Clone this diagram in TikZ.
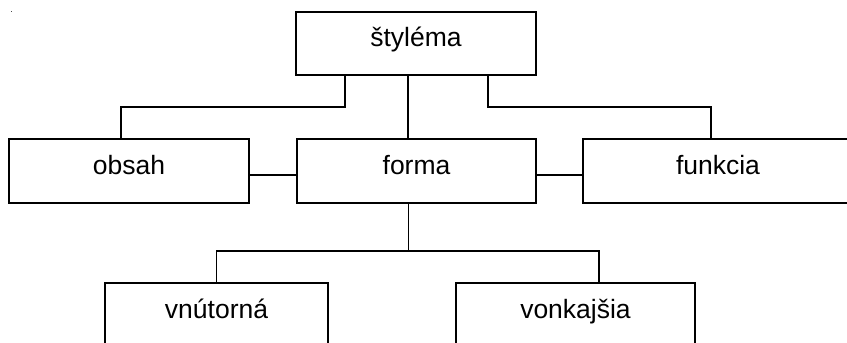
\documentclass[tikz,border=0pt]{standalone}
\usepackage{fontspec}
\setmainfont{Liberation Sans}
\begin{document}
\begin{tikzpicture}[x=1pt,y=-1pt,
  box/.style={draw=black,line width=1.3pt,minimum height=64pt,inner sep=0pt,
    font=\fontsize{26.5}{30}\selectfont,text height=20pt,text depth=14pt},
  link/.style={draw=black,line width=1.3pt}]
\useasboundingbox (0,0) rectangle (847,343);
\clip (0,0) rectangle (847,343);
\fill[black!70] (10.5,10.5) rectangle (12,12);
\node[box,minimum width=240pt,minimum height=63pt] (top) at (416,43.5) {štyléma};
\node[box,minimum width=240pt] (obsah) at (129,171) {obsah};
\node[box,minimum width=239pt] (forma) at (416.5,171) {forma};
\node[box,minimum width=270pt] (funkcia) at (718,171) {funkcia};
\node[box,minimum width=223pt] (vnut) at (216.5,315) {vnútorná};
\node[box,minimum width=239pt] (vonk) at (575.5,315) {vonkajšia};
% top connectors
\coordinate (tl) at ([xshift=-71pt]top.south);
\coordinate (tc) at ([xshift=-8pt]top.south);
\coordinate (tr) at ([xshift=72pt]top.south);
\coordinate (ol) at ([xshift=-8pt]obsah.north);
\coordinate (fr) at ([xshift=-7pt]funkcia.north);
\draw[link] (tl) -- (tl |- 0,107) -- (ol |- 0,107) -- (ol);
\draw[link] (tc) -- (tc |- forma.north);
\draw[link] (tr) -- (tr |- 0,107) -- (fr |- 0,107) -- (fr);
% side links
\draw[link] ([yshift=-4pt]obsah.east) -- ([yshift=-4pt]forma.west);
\draw[link] ([yshift=-4pt]forma.east) -- ([yshift=-4pt]funkcia.west);
% bottom connectors
\coordinate (fb) at ([xshift=-8pt]forma.south);
\coordinate (vl) at (vnut.north);
\coordinate (vr) at ([xshift=23.5pt]vonk.north);
\draw[link] (fb) -- (fb |- 0,251);
\draw[link] (vl) -- (vl |- 0,251) -- (vr |- 0,251) -- (vr);
\end{tikzpicture}
\end{document}
